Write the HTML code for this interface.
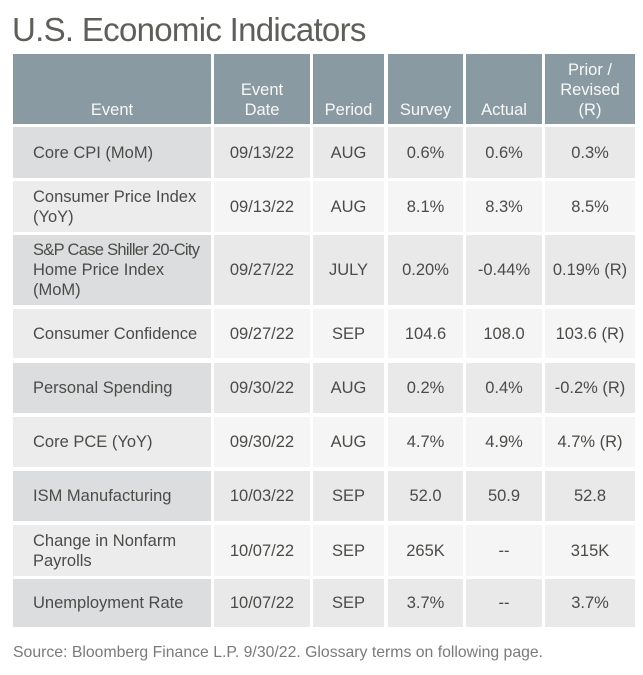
<!DOCTYPE html>
<html>
<head>
<meta charset="utf-8">
<style>
  html,body{margin:0;padding:0;background:#fff;}
  body{width:643px;height:675px;position:relative;overflow:hidden;font-family:"Liberation Sans",sans-serif;}
  .title{position:absolute;left:12px;top:13px;font-size:33px;line-height:33px;color:#5e5e5a;letter-spacing:-0.7px;white-space:nowrap;}
  .c{position:absolute;display:flex;align-items:center;justify-content:center;text-align:center;font-size:16.5px;line-height:20px;color:#4b4b48;box-sizing:border-box;white-space:nowrap;}
  .l{justify-content:flex-start;text-align:left;padding-left:20px;}
  .h{background:#8a9aa3;color:#f7f8f8;align-items:flex-end;padding-bottom:4px;}
  .d1{background:#dcdddf;}
  .d2{background:#e9e9ea;}
  .l1{background:#ececed;}
  .l2{background:#f5f5f5;}
  .src{position:absolute;left:13px;top:643px;font-size:15.8px;line-height:20px;color:#7a7a7a;white-space:nowrap;}
</style>
</head>
<body>
<div class="title">U.S. Economic Indicators</div>

<!-- header -->
<div class="c h" style="left:13px;top:54px;width:198px;height:70px;">Event</div>
<div class="c h" style="left:214px;top:54px;width:96px;height:70px;"><div>Event<br>Date</div></div>
<div class="c h" style="left:313px;top:54px;width:71px;height:70px;">Period</div>
<div class="c h" style="left:388px;top:54px;width:75px;height:70px;">Survey</div>
<div class="c h" style="left:466px;top:54px;width:76px;height:70px;">Actual</div>
<div class="c h" style="left:545px;top:54px;width:90px;height:70px;"><div>Prior /<br>Revised<br>(R)</div></div>

<!-- row 1 -->
<div class="c l d1" style="left:13px;top:127px;width:198px;height:51px;">Core CPI (MoM)</div>
<div class="c d2" style="left:214px;top:127px;width:96px;height:51px;">09/13/22</div>
<div class="c d2" style="left:313px;top:127px;width:71px;height:51px;">AUG</div>
<div class="c d2" style="left:388px;top:127px;width:75px;height:51px;">0.6%</div>
<div class="c d2" style="left:466px;top:127px;width:76px;height:51px;">0.6%</div>
<div class="c d2" style="left:545px;top:127px;width:90px;height:51px;">0.3%</div>

<!-- row 2 -->
<div class="c l l1" style="left:13px;top:181px;width:198px;height:51px;"><div>Consumer Price Index<br>(YoY)</div></div>
<div class="c l2" style="left:214px;top:181px;width:96px;height:51px;">09/13/22</div>
<div class="c l2" style="left:313px;top:181px;width:71px;height:51px;">AUG</div>
<div class="c l2" style="left:388px;top:181px;width:75px;height:51px;">8.1%</div>
<div class="c l2" style="left:466px;top:181px;width:76px;height:51px;">8.3%</div>
<div class="c l2" style="left:545px;top:181px;width:90px;height:51px;">8.5%</div>

<!-- row 3 -->
<div class="c l d1" style="left:13px;top:235px;width:198px;height:70px;"><div><span style="letter-spacing:-0.7px;">S&amp;P Case Shiller 20-City</span><br>Home Price Index<br>(MoM)</div></div>
<div class="c d2" style="left:214px;top:235px;width:96px;height:70px;">09/27/22</div>
<div class="c d2" style="left:313px;top:235px;width:71px;height:70px;">JULY</div>
<div class="c d2" style="left:388px;top:235px;width:75px;height:70px;">0.20%</div>
<div class="c d2" style="left:466px;top:235px;width:76px;height:70px;">-0.44%</div>
<div class="c d2" style="left:545px;top:235px;width:90px;height:70px;">0.19% (R)</div>

<!-- row 4 -->
<div class="c l l1" style="left:13px;top:309px;width:198px;height:49px;">Consumer Confidence</div>
<div class="c l2" style="left:214px;top:309px;width:96px;height:49px;">09/27/22</div>
<div class="c l2" style="left:313px;top:309px;width:71px;height:49px;">SEP</div>
<div class="c l2" style="left:388px;top:309px;width:75px;height:49px;">104.6</div>
<div class="c l2" style="left:466px;top:309px;width:76px;height:49px;">108.0</div>
<div class="c l2" style="left:545px;top:309px;width:90px;height:49px;">103.6 (R)</div>

<!-- row 5 -->
<div class="c l d1" style="left:13px;top:363px;width:198px;height:50px;">Personal Spending</div>
<div class="c d2" style="left:214px;top:363px;width:96px;height:50px;">09/30/22</div>
<div class="c d2" style="left:313px;top:363px;width:71px;height:50px;">AUG</div>
<div class="c d2" style="left:388px;top:363px;width:75px;height:50px;">0.2%</div>
<div class="c d2" style="left:466px;top:363px;width:76px;height:50px;">0.4%</div>
<div class="c d2" style="left:545px;top:363px;width:90px;height:50px;">-0.2% (R)</div>

<!-- row 6 -->
<div class="c l l1" style="left:13px;top:417px;width:198px;height:50px;">Core PCE (YoY)</div>
<div class="c l2" style="left:214px;top:417px;width:96px;height:50px;">09/30/22</div>
<div class="c l2" style="left:313px;top:417px;width:71px;height:50px;">AUG</div>
<div class="c l2" style="left:388px;top:417px;width:75px;height:50px;">4.7%</div>
<div class="c l2" style="left:466px;top:417px;width:76px;height:50px;">4.9%</div>
<div class="c l2" style="left:545px;top:417px;width:90px;height:50px;">4.7% (R)</div>

<!-- row 7 -->
<div class="c l d1" style="left:13px;top:471px;width:198px;height:50px;">ISM Manufacturing</div>
<div class="c d2" style="left:214px;top:471px;width:96px;height:50px;">10/03/22</div>
<div class="c d2" style="left:313px;top:471px;width:71px;height:50px;">SEP</div>
<div class="c d2" style="left:388px;top:471px;width:75px;height:50px;">52.0</div>
<div class="c d2" style="left:466px;top:471px;width:76px;height:50px;">50.9</div>
<div class="c d2" style="left:545px;top:471px;width:90px;height:50px;">52.8</div>

<!-- row 8 -->
<div class="c l l1" style="left:13px;top:525px;width:198px;height:51px;"><div>Change in Nonfarm<br>Payrolls</div></div>
<div class="c l2" style="left:214px;top:525px;width:96px;height:51px;">10/07/22</div>
<div class="c l2" style="left:313px;top:525px;width:71px;height:51px;">SEP</div>
<div class="c l2" style="left:388px;top:525px;width:75px;height:51px;">265K</div>
<div class="c l2" style="left:466px;top:525px;width:76px;height:51px;">--</div>
<div class="c l2" style="left:545px;top:525px;width:90px;height:51px;">315K</div>

<!-- row 9 -->
<div class="c l d1" style="left:13px;top:579px;width:198px;height:48px;">Unemployment Rate</div>
<div class="c d2" style="left:214px;top:579px;width:96px;height:48px;">10/07/22</div>
<div class="c d2" style="left:313px;top:579px;width:71px;height:48px;">SEP</div>
<div class="c d2" style="left:388px;top:579px;width:75px;height:48px;">3.7%</div>
<div class="c d2" style="left:466px;top:579px;width:76px;height:48px;">--</div>
<div class="c d2" style="left:545px;top:579px;width:90px;height:48px;">3.7%</div>

<div class="src">Source: Bloomberg Finance L.P. 9/30/22. Glossary terms on following page.</div>
</body>
</html>
